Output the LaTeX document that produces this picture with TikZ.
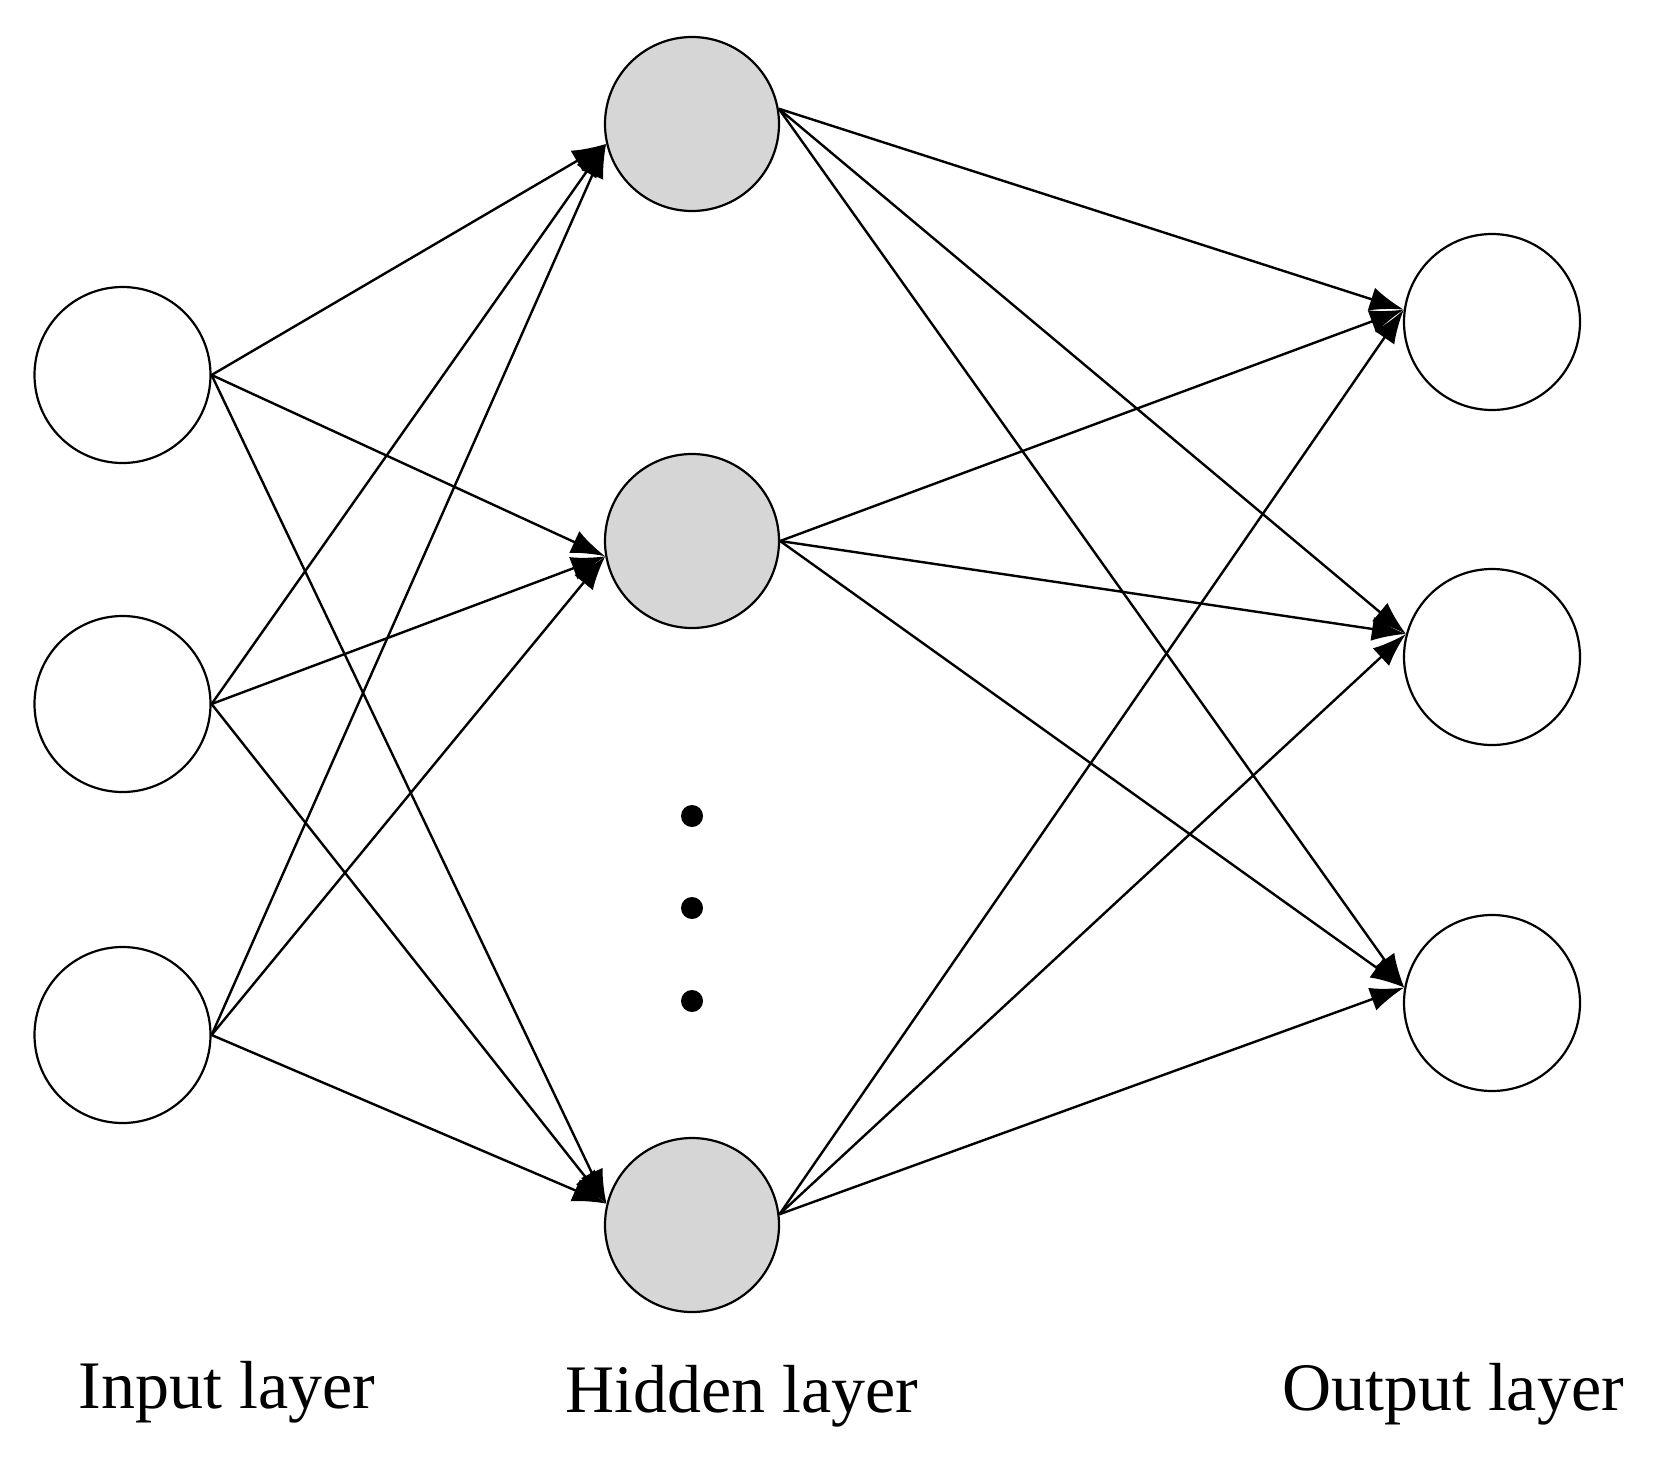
\documentclass[tikz,border=0pt]{standalone}
\usepackage{fontspec}
\setmainfont{Liberation Serif}
\usetikzlibrary{arrows.meta}
\begin{document}
\begin{tikzpicture}[x=1pt,y=-1pt,
  neuron/.style={circle,draw,line width=2.2pt,minimum size=176pt,inner sep=0pt},
  hid/.style={neuron,fill=black!16,minimum size=174pt},
  conn/.style={line width=2.4pt,-{Latex[length=34pt,width=24pt]}},
  lab/.style={font=\fontsize{68}{80}\selectfont},
  dot/.style={circle,fill=black,minimum size=22pt,inner sep=0pt}]
\useasboundingbox (0,0) rectangle (1656,1469);
\node[neuron] (i1) at (122.5,375) {};
\node[neuron] (i2) at (122.5,704) {};
\node[neuron] (i3) at (122.5,1035) {};
\node[hid] (h1) at (692,124) {};
\node[hid] (h2) at (692,541) {};
\node[hid] (h3) at (692,1225) {};
\node[neuron] (o1) at (1492,322) {};
\node[neuron] (o2) at (1492,657) {};
\node[neuron] (o3) at (1492,1003) {};
\node[dot] (d1) at (692,816) {};
\node[dot] (d2) at (692,908) {};
\node[dot] (d3) at (692,1001) {};
\foreach \i in {1,2,3}{
  \draw[conn] (i\i.east) -- (h1.193);
  \draw[conn] (i\i.east) -- (h2.190);
  \draw[conn] (i\i.east) -- (h3.166);}
\foreach \h/\a in {1/10,2/0,3/7}{
  \draw[conn] (h\h.\a) -- (o1.172);
  \draw[conn] (h\h.\a) -- (o2.165);
  \draw[conn] (h\h.\a) -- (o3.170);}
\node[lab] (li) at (227,1392) {Input layer};
\node[lab] (lh) at (742,1396) {Hidden layer};
\node[lab] (lo) at (1453,1394) {Output layer};
\end{tikzpicture}
\end{document}
